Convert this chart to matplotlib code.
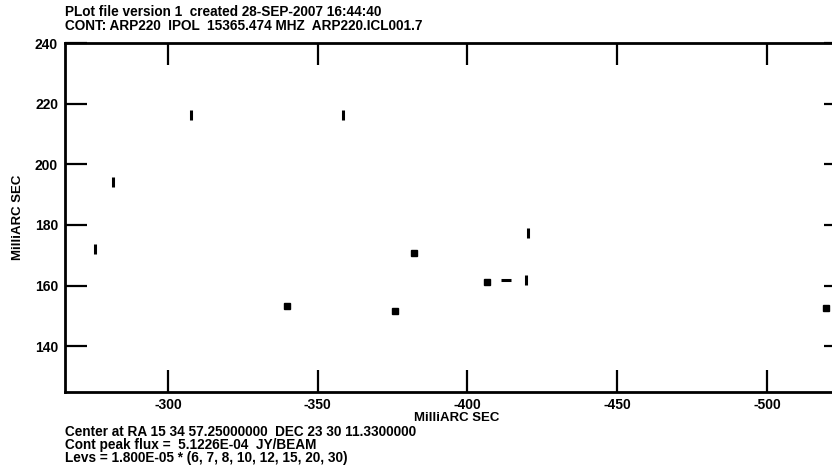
import matplotlib
matplotlib.use('Agg')
import matplotlib.pyplot as plt

plt.rcParams['font.family'] = ['Liberation Sans', 'DejaVu Sans']
plt.rcParams['axes.unicode_minus'] = False

# Componentes (offset RA, offset DEC) en milli-arcsec
src_x = [-275.6, -281.6, -307.7, -358.4, -339.7, -375.8, -382.2,
         -406.4, -412.9, -419.6, -420.2, -519.8]
src_y = [171.9, 194.2, 216.2, 216.2, 153.2, 151.7, 170.6,
         161.1, 161.7, 161.7, 177.2, 152.5]
src_mark = ['|', '|', '|', '|', 's', 's', 's', 's', '_', '|', '|', 's']

xticks = [-300, -350, -400, -450, -500]
yticks = [140, 160, 180, 200, 220, 240]

header = ['PLot file version 1  created 28-SEP-2007 16:44:40',
          'CONT: ARP220  IPOL  15365.474 MHZ  ARP220.ICL001.7']
footer = ['Center at RA 15 34 57.25000000  DEC 23 30 11.3300000',
          'Cont peak flux =  5.1226E-04  JY/BEAM',
          'Levs = 1.800E-05 * (6, 7, 8, 10, 12, 15, 20, 30)']

fig = plt.figure(figsize=(8.32, 4.74), dpi=100)
ax = fig.add_axes([65 / 832, 1 - 392 / 474, 781 / 832, 349 / 474])

for x, y, m in zip(src_x, src_y, src_mark):
    if m == 's':
        ax.plot(x, y, marker='s', color='black', markersize=4, linestyle='none')
    else:
        ax.plot(x, y, marker=m, color='black', markersize=7, mew=2.2, linestyle='none')

ax.set_xlim(-265.6, -526.4)
ax.set_ylim(124.9, 240)
ax.set_xticks(xticks)
ax.set_yticks(yticks)
ax.tick_params(direction='in', length=16, width=1.6, top=True, right=True,
               labelsize=10, pad=5)
ax.tick_params(axis='x', pad=4)
for lab in ax.get_xticklabels() + ax.get_yticklabels():
    lab.set_fontweight('bold')
for s in ax.spines.values():
    s.set_linewidth(2)

ax.set_xlabel('MilliARC SEC', fontsize=9.5, fontweight='bold')
ax.xaxis.set_label_coords(0.502, -0.058)
ax.set_ylabel('MilliARC SEC', fontsize=9.5, fontweight='bold')
ax.yaxis.set_label_coords(-0.053, 0.5)

for i, line in enumerate(header):
    fig.text(65 / 832, 1 - (12 + 14 * i) / 474, line, fontsize=9.8,
             fontweight='bold', va='center', ha='left')
for i, line in enumerate(footer):
    fig.text(65 / 832, 1 - (432 + 13 * i) / 474, line, fontsize=9.8,
             fontweight='bold', va='center', ha='left')

fig.savefig('out.png', dpi=100)
